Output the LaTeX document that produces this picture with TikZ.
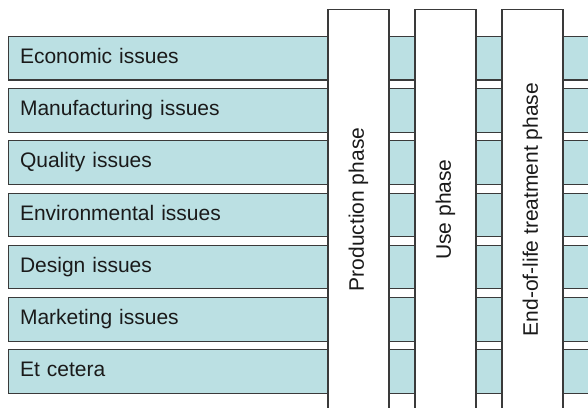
\documentclass[tikz,border=0pt]{standalone}
\usepackage{fontspec}
\setmainfont{Liberation Sans}
\definecolor{barfill}{HTML}{BBE0E3}
\definecolor{edge}{HTML}{3A3A3A}
\definecolor{ink}{HTML}{1A1A1A}
\begin{document}
\begin{tikzpicture}[x=1pt,y=1pt,
  bar/.style={draw=edge, line width=1.1pt, fill=barfill, anchor=north west,
    text width=576pt, inner xsep=12pt, inner ysep=0pt, minimum height=43.5pt,
    text height=15pt, text depth=4.5pt,
    align=left, text=ink, font=\fontsize{21}{25}\selectfont},
  phasecol/.style={draw=edge, line width=1.1pt, fill=white, rotate=90,
    minimum width=400pt, minimum height=61pt, inner sep=0pt, text=ink,
    font=\fontsize{21}{25}\selectfont}]
\clip (0,0) rectangle (588,407);
\fill[white] (0,0) rectangle (588,407);
\foreach \lbl [count=\i from 0] in {Economic issues, Manufacturing issues, Quality issues, Environmental issues, Design issues, Marketing issues, Et cetera}{
  \node[bar] (b\i) at (7.5, {407-36-52.2*\i}) {\lbl};
}
\node[phasecol] (p1) at (358.5, 197.5) {Production phase};
\node[phasecol] (p2) at (445.5, 197.5) {Use phase};
\node[phasecol] (p3) at (532.5, 197.5) {End-of-life treatment phase};
\end{tikzpicture}
\end{document}
